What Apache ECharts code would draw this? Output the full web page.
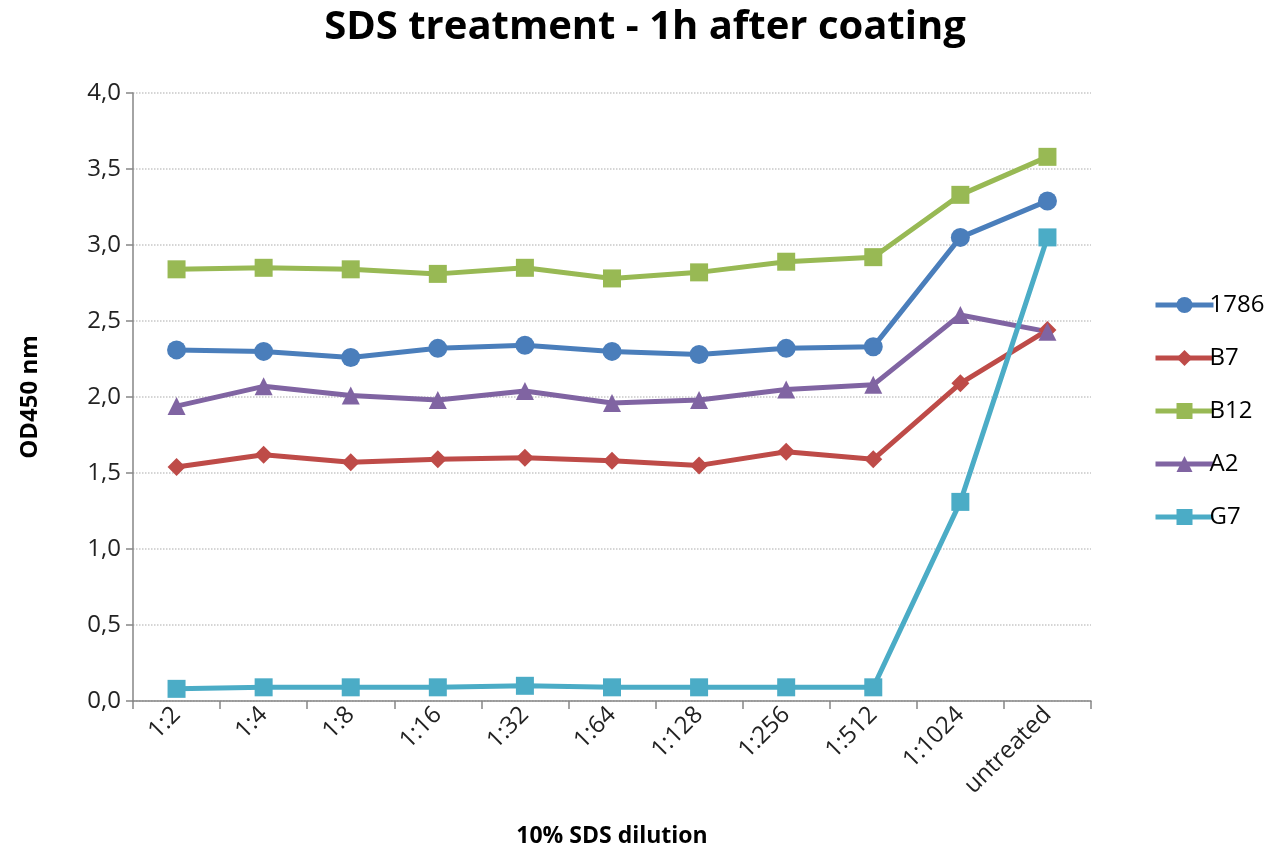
<!DOCTYPE html>
<html><head><meta charset="utf-8">
<script src="https://cdn.jsdelivr.net/npm/echarts@6/dist/echarts.min.js"></script>
<style>html,body{margin:0;padding:0;background:#fff}#c{width:1273px;height:852px}</style>
</head><body><div id="c"></div>
<script>
const categories = ['1:2','1:4','1:8','1:16','1:32','1:64','1:128','1:256','1:512','1:1024','untreated'];
const s1786 = [2.31,2.30,2.26,2.32,2.34,2.30,2.28,2.32,2.33,3.05,3.29];
const sB7   = [1.54,1.62,1.57,1.59,1.60,1.58,1.55,1.64,1.59,2.09,2.44];
const sB12  = [2.84,2.85,2.84,2.81,2.85,2.78,2.82,2.89,2.92,3.33,3.58];
const sA2   = [1.94,2.07,2.01,1.98,2.04,1.96,1.98,2.05,2.08,2.54,2.43];
const sG7   = [0.08,0.09,0.09,0.09,0.10,0.09,0.09,0.09,0.09,1.31,3.05];
const yTicks = [0,0.5,1,1.5,2,2.5,3,3.5,4];

const F = 'Open Sans, Liberation Sans, sans-serif';
function mk(name, data, color, symbol, size) {
  return {name, type:'line', data, symbol, symbolSize:size,
    lineStyle:{color, width:5}, itemStyle:{color}, color, z: 2};
}
const chart = echarts.init(document.getElementById('c'));
chart.setOption({
  animation:false,
  title:{text:'SDS treatment - 1h after coating', left:640, top:3, textAlign:'center',
    textStyle:{fontFamily:F, fontWeight:'bold', fontSize:40, color:'#000'}},
  grid:{left:133, right:182, top:93, bottom:151, outerBoundsMode:'none', containLabel:false},
  legend:{orient:'vertical', left:1148, top:288, itemGap:29, itemWidth:58, itemHeight:20,
    lineStyle:{width:5},
    textStyle:{fontFamily:F, fontSize:24, color:'#000', padding:[0,0,0,-9]},
    data:['1786','B7','B12','A2','G7']},
  xAxis:{type:'category', data:categories, boundaryGap:true,
    name:'10% SDS dilution', nameLocation:'middle', nameGap:124,
    nameTextStyle:{fontFamily:F, fontWeight:'bold', fontSize:23, color:'#000'},
    axisLine:{lineStyle:{color:'#868686', width:1.5}},
    axisTick:{show:true, alignWithLabel:false, length:8, lineStyle:{color:'#868686', width:1.5}},
    axisLabel:{rotate:45, fontFamily:F, fontSize:24, color:'#222', margin:10}},
  yAxis:{type:'value', min:0, max:4, interval:0.5,
    name:'OD450 nm', nameLocation:'middle', nameGap:91,
    nameTextStyle:{fontFamily:F, fontWeight:'bold', fontSize:24, color:'#000'},
    axisLine:{show:true, lineStyle:{color:'#868686', width:1.5}},
    axisTick:{show:true, inside:false, length:7, lineStyle:{color:'#868686', width:1.5}},
    splitLine:{lineStyle:{color:'#c8c8c8', type:'dotted', width:1.5}},
    axisLabel:{fontFamily:F, fontSize:24, color:'#222', margin:12,
      formatter: v => yTicks.includes(v) ? v.toFixed(1).replace('.', ',') : ''}},
  series:[
    mk('1786', s1786, '#4A7EBB', 'circle', 19),
    mk('B7', sB7, '#BE4B48', 'diamond', 18),
    mk('B12', sB12, '#98B954', 'rect', 18),
    mk('A2', sA2, '#8064A2', 'triangle', 18),
    mk('G7', sG7, '#4BACC6', 'rect', 18)
  ]
});
</script></body></html>
